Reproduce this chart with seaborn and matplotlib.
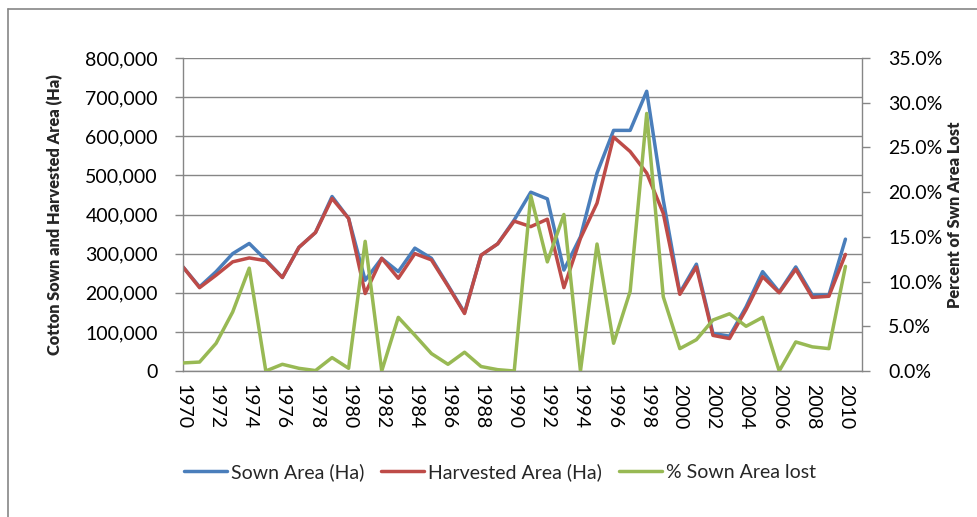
import numpy as np
import pandas as pd
import seaborn as sns
import matplotlib.pyplot as plt
from matplotlib.lines import Line2D
from matplotlib.ticker import FuncFormatter

years = list(range(1970, 2011))

sown_area = [266000, 215000, 254000, 300000, 326000, 284000, 239000, 316000, 354000, 446000,
             390000, 232000, 288000, 254000, 314000, 288000, 219000, 149000, 296000, 325000,
             386000, 457000, 440000, 258000, 343000, 506000, 615000, 615000, 715000, 437000,
             200000, 273000, 96000, 89000, 164000, 254000, 202000, 266000, 194000, 194000,
             337000]

harvested_area = [266000, 213000, 245000, 279000, 289000, 282000, 239000, 316000, 354000, 441000,
                  390000, 198000, 288000, 237000, 300000, 284000, 217000, 147000, 296000, 325000,
                  383000, 369000, 388000, 213000, 339000, 429000, 598000, 561000, 506000, 403000,
                  196000, 266000, 91000, 83000, 157000, 241000, 200000, 260000, 188000, 191000,
                  298000]

pct_lost = [0.9, 1.0, 3.1, 6.6, 11.5, 0.0, 0.75, 0.3, 0.05, 1.5,
            0.3, 14.5, 0.0, 6.0, 4.0, 1.95, 0.75, 2.1, 0.5, 0.15,
            0.0, 19.6, 12.2, 17.5, 0.0, 14.2, 3.1, 8.9, 28.8, 8.3,
            2.5, 3.5, 5.7, 6.4, 5.0, 6.0, 0.0, 3.25, 2.7, 2.5,
            11.7]

df = pd.DataFrame({"year": years, "sown": sown_area,
                   "harvested": harvested_area, "pct": pct_lost})

sns.set_theme(style="white")
plt.rcParams['font.family'] = ['Lato', 'DejaVu Sans']

grey = "#868686"
tick_size = 14
label_size = 11.8

fig = plt.figure(figsize=(9.77, 5.17), dpi=100)
ax = fig.add_axes([183 / 977, 1 - 371 / 517, (862 - 183) / 977, (371 - 58) / 517])
ax2 = ax.twinx()

sns.lineplot(data=df, x="year", y="sown", ax=ax, color="#4A7EBB", linewidth=2.5,
             label="Sown Area (Ha)", legend=False)
sns.lineplot(data=df, x="year", y="harvested", ax=ax, color="#BE4B48", linewidth=2.5,
             label="Harvested Area (Ha)", legend=False)
sns.lineplot(data=df, x="year", y="pct", ax=ax2, color="#98B954", linewidth=2.5,
             label="% Sown Area lost", legend=False)

ax.set_xlim(1970, 2011)
ax.set_ylim(0, 800000)
ax.set_yticks(np.arange(0, 800001, 100000))
ax.yaxis.set_major_formatter(FuncFormatter(lambda v, p: "{:,.0f}".format(v)))
ax.set_xticks(range(1970, 2011, 2))
ax.set_xticklabels([str(y) for y in range(1970, 2011, 2)], rotation=270)
ax.grid(axis="y", color=grey, linewidth=1)
ax.set_axisbelow(True)

ax2.set_ylim(0, 35)
ax2.set_yticks(np.arange(0, 35.1, 5))
ax2.yaxis.set_major_formatter(FuncFormatter(lambda v, p: "{:.1f}%".format(v)))
ax2.grid(False)

for a in (ax, ax2):
    a.set_xlabel("")
    a.spines["top"].set_visible(False)
    for s in ("left", "right", "bottom"):
        a.spines[s].set_color(grey)
        a.spines[s].set_linewidth(1)
    a.tick_params(axis="both", colors=grey, labelcolor="black", labelsize=tick_size,
                  length=6, width=1, direction="out")
ax.spines["right"].set_visible(False)
ax2.spines["left"].set_visible(False)
ax2.spines["bottom"].set_visible(False)
ax.tick_params(axis="x", pad=3)
ax.tick_params(axis="y", pad=12)
ax2.tick_params(axis="y", pad=13)

label_y = 1 - 215 / 517
ax.set_ylabel("Cotton Sown and Harvested Area (Ha)", fontsize=label_size,
              fontweight="heavy")
ax.yaxis.set_label_coords(63 / 977, label_y, transform=fig.transFigure)
ax2.set_ylabel("Percent of Swn Area Lost", fontsize=label_size, fontweight="heavy",
               rotation=90)
ax2.yaxis.set_label_coords(947 / 977, label_y, transform=fig.transFigure)

handles = ax.get_lines()[:2] + ax2.get_lines()[:1]
fig.legend(handles, [h.get_label() for h in handles], loc="center",
           bbox_to_anchor=(500 / 977, 1 - 472 / 517), ncol=3, frameon=False,
           fontsize=tick_size, handlelength=2.2, handletextpad=0.2, columnspacing=0.9)

# outer chart frame (cropped on the right and bottom)
fig.add_artist(Line2D([7.5 / 977, 7.5 / 977], [0, 1 - 9 / 517], color=grey, linewidth=1.2,
                      transform=fig.transFigure))
fig.add_artist(Line2D([7.5 / 977, 1], [1 - 9 / 517, 1 - 9 / 517], color=grey, linewidth=1.2,
                      transform=fig.transFigure))

plt.savefig("out.png", dpi=100)
